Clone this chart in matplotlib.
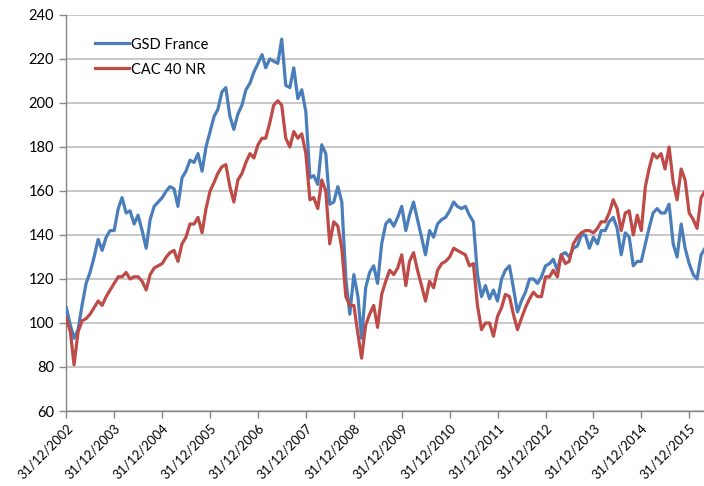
import numpy as np
import pandas as pd
import matplotlib
matplotlib.use('Agg')
import matplotlib.pyplot as plt
import matplotlib.dates as mdates

plt.rcParams['font.family'] = ['Lato', 'DejaVu Sans']

# monthly values (month ends, 31/12/2002 .. 30/04/2016)
gsd_france = [
    107, 99, 93, 97, 108, 118, 123, 130, 138, 133, 139, 142, 142,      # 2003
    152, 157, 150, 151, 145, 149, 142, 134, 147, 153, 155, 157,        # 2004
    160, 162, 161, 153, 166, 169, 174, 173, 177, 169, 180, 187,        # 2005
    194, 197, 205, 207, 194, 188, 195, 199, 206, 209, 214, 218,        # 2006
    222, 216, 220, 219, 218, 229, 208, 207, 216, 202, 206, 196,        # 2007
    166, 167, 163, 181, 177, 154, 155, 162, 155, 120, 104, 122,        # 2008
    112, 93, 116, 123, 126, 118, 136, 145, 147, 144, 148, 153,         # 2009
    142, 149, 155, 147, 139, 131, 142, 139, 145, 147, 148, 151,        # 2010
    155, 153, 152, 153, 149, 146, 122, 112, 117, 111, 115, 110,        # 2011
    120, 124, 126, 116, 105, 110, 114, 120, 120, 118, 121, 126,        # 2012
    127, 129, 124, 131, 132, 130, 134, 135, 140, 140, 134, 139,        # 2013
    136, 142, 142, 146, 148, 143, 131, 141, 139, 126, 128, 128,        # 2014
    136, 143, 150, 152, 150, 150, 154, 136, 130, 145, 134, 127,        # 2015
    122, 120, 131, 134,                                                # 2016
]
cac40_nr = [
    102, 96, 81, 96, 101, 102, 104, 107, 110, 108, 112, 115, 118,
    121, 121, 123, 120, 121, 121, 119, 115, 122, 125, 126, 127,
    130, 132, 133, 128, 136, 139, 145, 145, 148, 141, 152, 160,
    164, 168, 171, 172, 162, 155, 165, 168, 173, 177, 175, 181,
    184, 184, 191, 199, 201, 199, 184, 180, 187, 184, 186, 177,
    156, 157, 152, 165, 160, 136, 146, 144, 134, 112, 108, 108,
    95, 84, 99, 104, 108, 98, 113, 119, 124, 122, 125, 131,
    117, 128, 132, 124, 117, 110, 119, 116, 124, 127, 128, 130,
    134, 133, 132, 131, 126, 127, 108, 97, 100, 100, 94, 103,
    107, 113, 112, 104, 97, 102, 107, 111, 114, 112, 112, 121,
    121, 124, 121, 131, 127, 128, 136, 139, 141, 142, 142, 141,
    143, 146, 146, 150, 156, 152, 142, 150, 151, 140, 149, 142,
    162, 170, 177, 175, 177, 170, 180, 164, 156, 170, 165, 150,
    147, 143, 157, 160,
]
dates = pd.date_range('2002-12-31', periods=len(gsd_france), freq='ME')
tick_dates = pd.date_range('2002-12-31', '2015-12-31', freq='YE')

BLUE, RED = '#4A7EBB', '#BE4B48'
GRID, AXIS = '#BFBFBF', '#868686'

fig = plt.figure(figsize=(7.04, 4.86), dpi=100)
ax = fig.add_axes([66.3 / 704, 75 / 486, 1 - 66.3 / 704, 396 / 486])

ax.plot(dates, gsd_france, color=BLUE, lw=2.3, label='GSD France', zorder=3)
ax.plot(dates, cac40_nr, color=RED, lw=2.3, label='CAC 40 NR', zorder=4)

ax.set_ylim(60, 240)
ax.set_yticks(np.arange(60, 241, 20))
ax.set_xlim(pd.Timestamp('2002-12-31'), pd.Timestamp('2016-04-22'))
ax.set_xticks(tick_dates)
ax.xaxis.set_major_formatter(mdates.DateFormatter('%d/%m/%Y'))

ax.grid(axis='y', color=GRID, lw=1.2, zorder=0)
ax.set_axisbelow(True)
for s in ('top', 'right'):
    ax.spines[s].set_visible(False)
for s in ('left', 'bottom'):
    ax.spines[s].set_color(AXIS)
    ax.spines[s].set_linewidth(1.0)
ax.tick_params(axis='both', colors=AXIS, length=5, width=1.0, labelcolor='black')
ax.tick_params(axis='y', pad=4, labelsize=10.5)
ax.tick_params(axis='x', pad=3, labelsize=9.3)
for lbl in ax.get_xticklabels():
    lbl.set_rotation(45)
    lbl.set_ha('right')
    lbl.set_va('top')
    lbl.set_rotation_mode('anchor')

ax.legend(loc='upper left', bbox_to_anchor=(0.045, 0.943), frameon=False,
          fontsize=10.5, handlelength=2.3, handletextpad=0.15,
          labelspacing=0.75, borderpad=0, borderaxespad=0)

fig.savefig('out.png', dpi=100)
